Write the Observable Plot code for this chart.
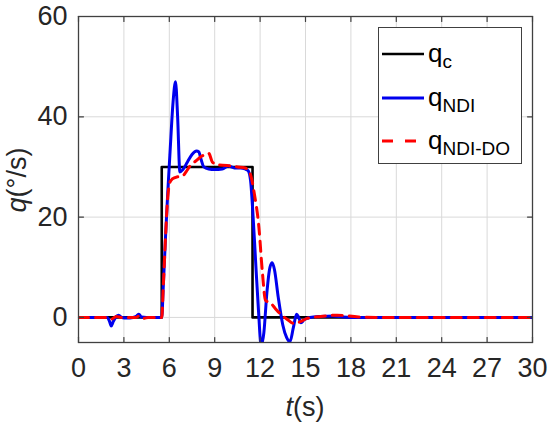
<!DOCTYPE html>
<html><head><meta charset="utf-8">
<script src="https://cdn.jsdelivr.net/npm/d3@7"></script>
<script src="https://cdn.jsdelivr.net/npm/@observablehq/plot@0.6"></script>
<style>
body{margin:0;background:#fff;font-family:"Liberation Sans",Arial,sans-serif;}
#wrap{position:relative;width:550px;height:433px;}
#legend{position:absolute;left:378px;top:27px;width:144px;height:137px;border:1.3px solid #404040;background:#fff;box-sizing:border-box;}
.row{position:absolute;left:0;height:40px;}
.row svg{position:absolute;left:3px;top:0;}
.lab{position:absolute;left:49px;top:0;font-size:26px;line-height:26px;color:#000;white-space:nowrap;}
.lab sub{font-size:19px;position:relative;top:6px;vertical-align:baseline;}
</style></head>
<body><div id="wrap"><div id="chart"></div>
<div id="legend"></div></div>
<script>
const xTicks = [0,3,6,9,12,15,18,21,24,27,30];
const yTicks = [0,20,40,60];

const qcT = [0,5.5,5.5,11.5,11.5,30];
const qcV = [0,0,30,30,0,0];

const ndiT = [0,1.9,2.05,2.16,2.3,2.5,2.66,2.85,3.2,3.6,3.85,3.99,4.15,4.5,5.5,5.6,5.75,5.9,6.05,6.25,6.41,6.55,6.7,6.9,7.2,7.5,7.8,7.95,8.1,8.28,8.6,9.0,9.5,9.9,10.3,10.7,11.0,11.2,11.37,11.5,11.7,11.9,12.07,12.25,12.45,12.65,12.8,12.95,13.2,13.5,13.75,13.97,14.2,14.41,14.55,14.7,14.9,15.3,16,16.8,17.5,18.5,30];
const ndiV = [0,0,-0.8,-1.7,-0.8,0.2,0.45,0,-0.1,0,0.3,0.65,0.1,0,0,6,16,25,33,43,47,40,29,29.5,31,32.5,33.2,33,31.5,30,29.6,29.5,29.6,30.2,29.8,29.8,29.6,29.3,27.3,22,11.4,1,-5.6,-3,5,10,10.9,9.5,4,-1.5,-4,-4.85,-2,0.65,0,-1.07,-0.5,0,0.2,0.3,0.1,0,0];

const ndoT = [0,2.0,2.2,2.5,2.8,3.8,4.0,4.3,4.6,5.5,5.6,5.75,5.9,6.05,6.2,6.5,6.85,7.1,7.4,7.8,8.06,8.4,8.61,8.84,9.2,9.83,10.5,11.0,11.3,11.45,11.6,11.92,12.14,12.36,12.69,13.0,13.35,13.8,14.23,14.7,15.1,16,17.1,18.5,20,30];
const ndoV = [0,0,-0.3,0.2,0,0,0.3,-0.2,0,0,6,16,24,27,27.6,28,28.1,29,30.3,31.3,32,32.5,32.7,31,30.4,30.3,30,29.8,29,27.5,25,18,9.4,3.4,2.9,1.8,0.65,-0.4,-1.2,-0.8,-0.2,0.2,0.45,0.1,0,0];

const qc = qcT.map((t,i)=>({t, v:qcV[i]}));
const ndi = ndiT.map((t,i)=>({t, v:ndiV[i]}));
const ndo = ndoT.map((t,i)=>({t, v:ndoV[i]}));

const tickShape = {draw(ctx, l){ ctx.moveTo(0,0); ctx.lineTo(0,-l); }};
const axisColor = "#404040";

const chart = Plot.plot({
  width: 550, height: 433,
  marginLeft: 78, marginRight: 18, marginTop: 16, marginBottom: 91,
  style: {fontSize: "27px", fontFamily: "'Liberation Sans', Arial, sans-serif", color: "#262626", background: "#fff"},
  x: {domain: [0,30], label: null},
  y: {domain: [-5,60], label: null},
  marks: [
    Plot.gridX(xTicks, {stroke: "#d9d9d9", strokeOpacity: 1, strokeWidth: 1}),
    Plot.gridY(yTicks, {stroke: "#d9d9d9", strokeOpacity: 1, strokeWidth: 1}),
    Plot.line(qc, {x: "t", y: "v", stroke: "#000", strokeWidth: 2.6, clip: true}),
    Plot.line(ndi, {x: "t", y: "v", stroke: "#0000ee", strokeWidth: 3, curve: "monotone-x", clip: true}),
    Plot.line(ndo, {x: "t", y: "v", stroke: "#ff0000", strokeWidth: 3, strokeDasharray: "10,7", curve: "monotone-x", clip: true}),
    Plot.frame({stroke: axisColor, strokeWidth: 1.3}),
    Plot.vector(xTicks, {x: d=>d, frameAnchor: "bottom", length: 5, rotate: 0, anchor: "start", shape: tickShape, stroke: axisColor, strokeWidth: 1.2}),
    Plot.vector(xTicks, {x: d=>d, frameAnchor: "top", length: 5, rotate: 180, anchor: "start", shape: tickShape, stroke: axisColor, strokeWidth: 1.2}),
    Plot.vector(yTicks, {y: d=>d, frameAnchor: "left", length: 5, rotate: 90, anchor: "start", shape: tickShape, stroke: axisColor, strokeWidth: 1.2}),
    Plot.vector(yTicks, {y: d=>d, frameAnchor: "right", length: 5, rotate: -90, anchor: "start", shape: tickShape, stroke: axisColor, strokeWidth: 1.2}),
    Plot.axisX(xTicks, {tickSize: 0, tickPadding: 15, fill: "#262626", label: null}),
    Plot.axisY(yTicks, {tickSize: 0, tickPadding: 11, fill: "#262626", label: null})
  ]
});
document.getElementById("chart").appendChild(chart);

const svg = d3.select(chart);
const xl = svg.append("text").attr("x", 305).attr("y", 416).attr("text-anchor", "middle")
  .attr("font-size", 27).attr("fill", "#262626");
xl.append("tspan").attr("font-style", "italic").text("t");
xl.append("tspan").text("(s)");
const yl = svg.append("text").attr("transform", "translate(26,180) rotate(-90)").attr("text-anchor", "middle")
  .attr("font-size", 27).attr("fill", "#262626");
yl.append("tspan").attr("font-style", "italic").text("q");
yl.append("tspan").text("(°/s)");

const legendItems = [
  {name: "q", sub: "c", color: "#000", dash: null, w: 2.6},
  {name: "q", sub: "NDI", color: "#0000ee", dash: null, w: 3},
  {name: "q", sub: "NDI-DO", color: "#ff0000", dash: "11,12", w: 3}
];
const lg = document.getElementById("legend");
legendItems.forEach((it, i) => {
  const row = document.createElement("div");
  row.className = "row";
  row.style.top = (12 + i*43.5) + "px";
  row.innerHTML = `<svg width="44" height="30"><line x1="0" x2="42" y1="14" y2="14" stroke="${it.color}" stroke-width="${it.w}" ${it.dash ? `stroke-dasharray="${it.dash}"` : ""}/></svg><div class="lab">${it.name}<sub>${it.sub}</sub></div>`;
  lg.appendChild(row);
});
</script></body></html>
